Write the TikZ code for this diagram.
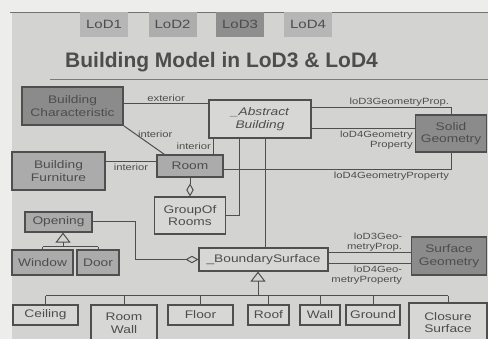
\documentclass[tikz,border=0pt]{standalone}
\usepackage{fontspec}
\setmainfont[FakeStretch=1.25]{Liberation Sans}
\newfontfamily\titlefont{Liberation Sans}
\usetikzlibrary{arrows.meta}
\definecolor{paper}{HTML}{EDEDEB}
\definecolor{slide}{HTML}{D3D3D1}
\definecolor{lightbox}{HTML}{D7D7D5}
\definecolor{midbox}{HTML}{ABABAB}
\definecolor{darkbox}{HTML}{8B8B8B}
\definecolor{linegray}{HTML}{4F4F4F}
\definecolor{textgray}{HTML}{4D4D4D}
\definecolor{tablight}{HTML}{B6B6B6}
\definecolor{tabmid}{HTML}{ADADAD}
\definecolor{tabdark}{HTML}{8E8E8E}
\begin{document}
\begin{tikzpicture}[x=1pt,y=-1pt,
  box/.style={draw=linegray,line width=1.1pt,fill=#1,text=textgray,inner sep=1pt,
    align=center,font=\fontsize{11}{12.5}\selectfont},
  box/.default=lightbox,
  heavy/.style={box=darkbox,line width=1.7pt},
  tab/.style={fill=#1,minimum width=48pt,minimum height=25pt,text=textgray,
    font=\fontsize{12}{14}\selectfont},
  lbl/.style={font=\fontsize{9}{10}\selectfont,text=textgray,inner sep=1.5pt},
  conn/.style={draw=linegray,line width=1pt},
  inh/.style={conn,-{Triangle[open,width=15pt,length=10pt]}},
  aggr/.style={conn,-{Diamond[open,width=7.5pt,length=13pt]}}]
\useasboundingbox (0,0) rectangle (488,339);
\fill[paper] (0,0) rectangle (488,339);
\fill[slide] (12,12) rectangle (488,339);
\draw[linegray!80,line width=.8pt] (10,12) -- (488,12);

% tabs and title
\node[tab=tablight] (lod1) at (104,24.5) {LoD1};
\node[tab=tabmid] (lod2) at (172.5,24.5) {LoD2};
\node[tab=tabdark] (lod3) at (240,24.5) {LoD3};
\node[tab=tablight] (lod4) at (308,24.5) {LoD4};
\node[text=textgray,font=\titlefont\bfseries\fontsize{21}{24}\selectfont] (title) at (221.5,62) {Building Model in LoD3 \& LoD4};
\draw[linegray!75,line width=.8pt] (50,79) -- (488,79);

% classes
\node[heavy,minimum width=101pt,minimum height=38pt] (bc) at (72.5,106) {Building\\Characteristic};
\node[box=midbox,minimum width=93pt,minimum height=38pt] (bf) at (58.5,171) {Building\\Furniture};
\node[box=midbox,minimum width=66pt,minimum height=22pt] (room) at (190,166) {Room};
\node[box,font=\fontsize{11}{12.5}\selectfont\itshape,minimum width=102pt,minimum height=38pt] (ab) at (260,119) {\_Abstract\\Building};
\node[heavy,minimum width=71pt,minimum height=37pt] (solid) at (451,133.5) {Solid\\Geometry};
\node[box,minimum width=71pt,minimum height=37pt] (gor) at (190,215.5) {GroupOf\\Rooms};
\node[box=midbox,minimum width=67pt,minimum height=20pt] (opening) at (58.5,222) {Opening};
\node[box=midbox,minimum width=61pt,minimum height=25pt] (window) at (42.5,262.5) {Window};
\node[box=midbox,minimum width=42pt,minimum height=25pt] (door) at (98,262.5) {Door};
\node[box,minimum width=129pt,minimum height=23pt] (bs) at (263.5,259.5) {\_BoundarySurface};
\node[heavy,minimum width=75pt,minimum height=38pt] (sg) at (449,256) {Surface\\Geometry};

% boundary surfaces
\node[box,minimum width=65pt,minimum height=20pt] (ceiling) at (45.5,315) {Ceiling};
\node[box,minimum width=66pt,minimum height=37pt] (roomwall) at (124,323.5) {Room\\Wall};
\node[box,minimum width=65pt,minimum height=20pt] (floor) at (200.5,315) {Floor};
\node[box,minimum width=41pt,minimum height=20pt] (roof) at (268.5,315) {Roof};
\node[box,minimum width=40pt,minimum height=20pt] (wall) at (320,315) {Wall};
\node[box,minimum width=54pt,minimum height=20pt] (ground) at (373,315) {Ground};
\node[box,minimum width=78pt,minimum height=39pt] (closure) at (448,322.5) {Closure\\Surface};

% associations
\draw[conn] (bc.east |- 0,104) -- (ab.west |- 0,104) node[lbl,midway,above] {exterior};
\draw[conn] (bc.south east) -- ([xshift=8pt]room.north west) node[lbl,pos=0.3,right] {interior};
\draw[conn] (room.north -| 213,0) -- (ab.south -| 213,0) node[lbl,midway,left] {interior};
\draw[conn] (bf.east |- 0,162) -- (room.west |- 0,162) node[lbl,midway,below] {interior};
\draw[aggr] (room.south) -- (gor.north);
\draw[conn] (gor.east) -| (ab.south -| 239,0);
\draw[conn] (ab.south -| 265,0) -- (bs.north -| 265,0);
\draw[conn] (ab.east |- 0,108) -| (solid.north) node[lbl,pos=0.5,above left] {loD3GeometryProp.};
\draw[conn] (ab.east |- 0,129) -- (solid.west |- 0,129) node[lbl,pos=1,below left,align=right] {loD4Geometry\\Property};
\draw[conn] (room.east |- 0,170) -| (solid.south) node[lbl,pos=0.5,below left] {loD4GeometryProperty};
\draw[aggr] (opening.east) -- ++(43,0) |- (bs.west);
\draw[conn] (bs.east |- 0,253) -- (sg.west |- 0,253) node[lbl,pos=0.92,above left,align=right] {loD3Geo-\\metryProp.};
\draw[conn] (bs.east |- 0,264) -- (sg.west |- 0,264) node[lbl,pos=0.92,below left,align=right] {loD4Geo-\\metryProperty};

% generalisations
\coordinate (obus) at (63,247);
\draw[conn] (window.north |- obus) -- (door.north |- obus);
\foreach \n in {window,door}
  \draw[conn] (\n.north |- obus) -- (\n.north);
\draw[inh] (obus) -- (opening.south -| obus);
\coordinate (sbus) at (258,296);
\draw[conn] (ceiling.north |- sbus) -- (closure.north |- sbus);
\foreach \n in {ceiling,roomwall,floor,roof,wall,ground,closure}
  \draw[conn] (\n.north |- sbus) -- (\n.north);
\draw[inh] (sbus) -- (bs.south -| sbus);
\end{tikzpicture}
\end{document}
